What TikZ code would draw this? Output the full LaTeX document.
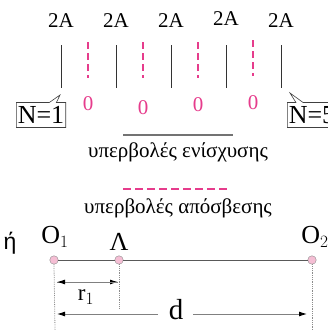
\documentclass[tikz,border=0pt]{standalone}
\usepackage{fontspec}
\setmainfont{Liberation Serif}
\newfontfamily\grsans{Liberation Sans}
\usetikzlibrary{shapes.callouts,arrows.meta}
\definecolor{hyperpink}{RGB}{230,60,140}
\definecolor{dotpink}{RGB}{245,190,212}
\tikzset{
  amp/.style={font=\fontsize{21}{22}\selectfont},
  zero/.style={text=hyperpink, font=\fontsize{21}{22}\selectfont},
  maxline/.style={black!80, line width=1pt},
  minline/.style={hyperpink, line width=1.4pt, dash pattern=on 7pt off 4pt},
  nbox/.style={rectangle callout, draw=black!75, line width=0.6pt, fill=white, anchor=west,
    inner xsep=1.5pt, minimum height=25pt, font=\fontsize{26}{28}\selectfont},
  legend/.style={font=\fontsize{21}{24}\selectfont},
  source/.style={circle, draw=black!45, fill=dotpink, inner sep=0pt, minimum size=8.5pt},
  guide/.style={black!45, densely dotted, line width=0.8pt},
  tip/.style={-{Latex[black,length=8pt,width=5pt]}},
  dimline/.style={black!50, line width=0.9pt},
}
\begin{document}
\begin{tikzpicture}[x=1pt, y=-1pt]
\useasboundingbox (0,0) rectangle (328,330);
% amplitude 2A on the hyperbolas of reinforcement
\node[amp] (a1) at (61,21) {2A};
\node[amp] (a2) at (116,21) {2A};
\node[amp] (a3) at (171,21) {2A};
\node[amp] (a4) at (226,19) {2A};
\node[amp] (a5) at (281,21) {2A};
\draw[maxline] (61,45) -- (61,88);
\draw[maxline] (116,45) -- (116,88);
\draw[maxline] (171,45) -- (171,88);
\draw[maxline] (226,45) -- (226,88);
\draw[maxline] (281,45) -- (281,88);
% hyperbolas of cancellation
\draw[minline] (88,42) -- (88,78);
\draw[minline] (143,42) -- (143,78);
\draw[minline] (198,42) -- (198,78);
\draw[minline] (253,40) -- (253,76);
\node[zero] (z1) at (88,104) {0};
\node[zero] (z2) at (143,108) {0};
\node[zero] (z3) at (198,105) {0};
\node[zero] (z4) at (253,103) {0};
% N labels
\node[nbox, callout absolute pointer={(60,95)}] (n1) at (16,115) {N=1};
\node[nbox, callout absolute pointer={(290,93)}] (n5) at (287,115) {N=5};
% legend
\draw[black!55, line width=1.4pt] (123,135) -- (233,135);
\node[legend] (leg1) at (178,152) {υπερβολές ενίσχυσης};
\draw[minline, dash pattern=on 8pt off 4pt] (123,189) -- (230,189);
\node[legend] (leg2) at (178,208) {υπερβολές απόσβεσης};
% sources and point
\node[font=\grsans\fontsize{23}{24}\selectfont] (or) at (10,243) {ή};
\node[source] (o1) at (54,260) {};
\node[source] (lam) at (119,260) {};
\node[source] (o2) at (312,260) {};
\draw[black!65, line width=1pt] (o1) -- (lam) -- (o2);
\node[font=\fontsize{26}{28}\selectfont] (o1l) at (55,237) {O$_1$};
\node[font=\fontsize{26}{28}\selectfont] (laml) at (119,242) {Λ};
\node[font=\fontsize{26}{28}\selectfont] (o2l) at (315,237) {O$_2$};
% distances
\draw[guide] (o1.south) -- (55,330);
\draw[guide] (lam.south) -- (119,308);
\draw[guide] (o2.south) -- (312,330);
\coordinate (r1a) at (57,282);
\coordinate (r1b) at (118,282);
\draw[dimline, tip] (r1a) -- (r1b);
\draw[dimline, tip] (r1b) -- (r1a);
\node[font=\fontsize{23}{24}\selectfont] (r1) at (86,297) {r$_1$};
\node[font=\fontsize{29}{30}\selectfont] (d) at (176,310) {d};
\coordinate (da) at (57,314);
\coordinate (db) at (307,314);
\draw[dimline, tip] (158,314) -- (da);
\draw[dimline, tip] (193,314) -- (db);
\end{tikzpicture}
\end{document}
